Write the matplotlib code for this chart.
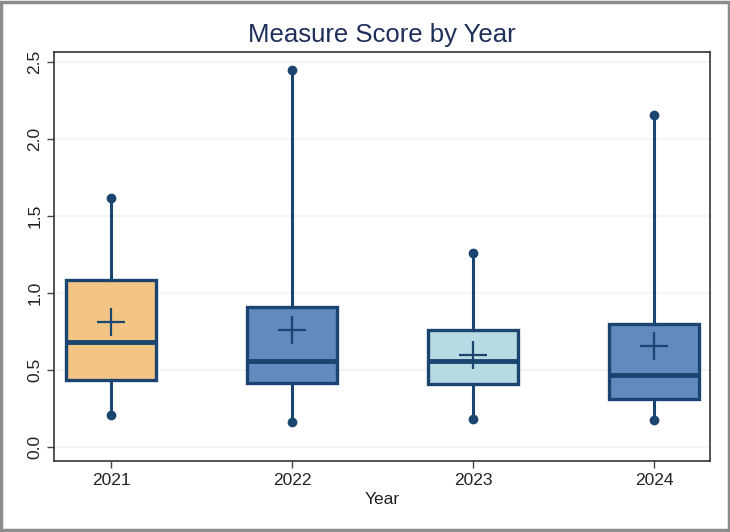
import matplotlib
matplotlib.use("Agg")
import matplotlib.pyplot as plt
from matplotlib.patches import Rectangle

plt.rcParams["font.family"] = ["Liberation Sans", "DejaVu Sans"]

years = ["2021", "2022", "2023", "2024"]
q1 = [0.435, 0.415, 0.41, 0.31]
median = [0.68, 0.56, 0.56, 0.47]
q3 = [1.085, 0.91, 0.76, 0.80]
whislo = [0.21, 0.16, 0.18, 0.175]
whishi = [1.62, 2.45, 1.26, 2.16]
mean = [0.81, 0.76, 0.60, 0.655]

box_colors = ["#F2C584", "#6389BF", "#B8DAE3", "#6389BF"]
NAVY = "#1A4570"

stats = [dict(label=y, q1=a, med=m, q3=b, whislo=lo, whishi=hi, mean=mu)
         for y, a, m, b, lo, hi, mu in zip(years, q1, median, q3, whislo, whishi, mean)]

fig = plt.figure(figsize=(7.3, 5.32), dpi=100)
ax = fig.add_axes([0.074, 0.1335, 0.8986, 0.7685])
pos = list(range(1, len(years) + 1))

bp = ax.bxp(stats, positions=pos, widths=0.5, patch_artist=True, showmeans=True,
            showcaps=False, showfliers=False,
            boxprops=dict(edgecolor=NAVY, linewidth=2.4),
            medianprops=dict(color=NAVY, linewidth=3.5),
            whiskerprops=dict(color=NAVY, linewidth=2.2),
            meanprops=dict(marker="+", markersize=20, markeredgewidth=1.6,
                           markeredgecolor=NAVY),
            zorder=3)
for patch, c in zip(bp["boxes"], box_colors):
    patch.set_facecolor(c)

# dots at whisker ends
ax.plot(pos, whislo, "o", color=NAVY, markersize=6, zorder=4)
ax.plot(pos, whishi, "o", color=NAVY, markersize=6, zorder=4)

ax.set_xlim(0.685, 4.31)
ax.set_ylim(-0.09, 2.565)
ax.set_yticks([0, 0.5, 1.0, 1.5, 2.0, 2.5])
ax.set_yticklabels(["0.0", "0.5", "1.0", "1.5", "2.0", "2.5"], rotation=90,
                   va="center", fontsize=12.5, color="#222222")
ax.set_xticks(pos, years, fontsize=12.5, color="#222222")
ax.tick_params(axis="both", length=5, width=1, color="#444444")
ax.grid(axis="y", color="#EEF3F5", linewidth=1.2, zorder=0)
ax.set_axisbelow(True)
for s in ax.spines.values():
    s.set_color("#333333")
    s.set_linewidth(1.2)

ax.set_xlabel("Year", fontsize=12.5, color="#222222", labelpad=3)
ax.set_title("Measure Score by Year", fontsize=18.5, color="#1E2F5A", pad=7)

# outer frame around the figure
fig.patches.append(Rectangle((0.002, 0.003), 0.996, 0.994, transform=fig.transFigure,
                             fill=False, edgecolor="#8C8C8C", linewidth=2.5))

fig.savefig("out.png", dpi=100)
